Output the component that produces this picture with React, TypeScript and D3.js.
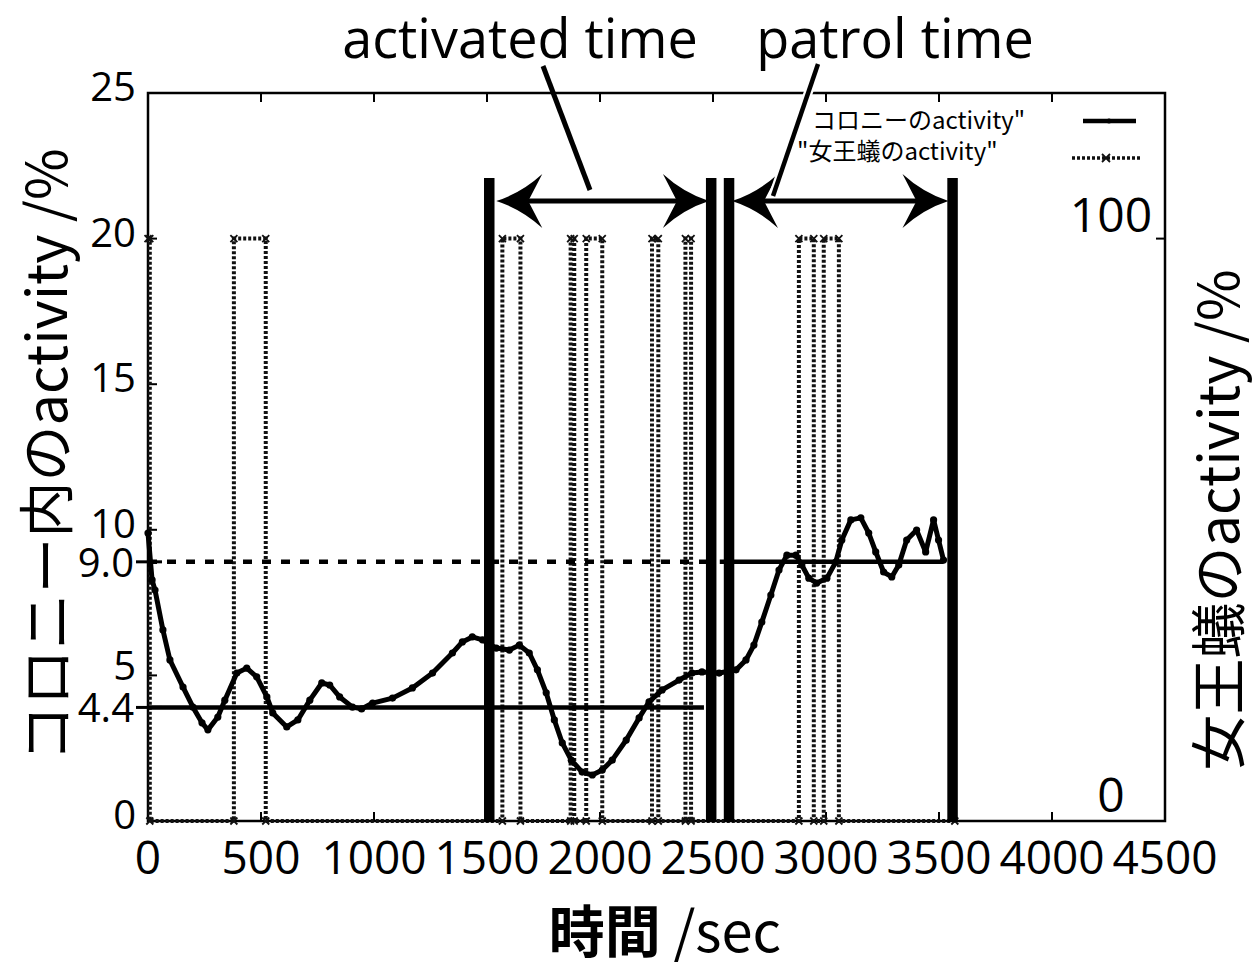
import React from "react";
import * as d3 from "d3";

// ---- data ----
const xTicks = [0, 500, 1000, 1500, 2000, 2500, 3000, 3500, 4000, 4500];
const yTicks = [0, 5, 10, 15, 20, 25];
const y2Ticks = [0, 100];

// colony activity (time sec, percent)
const colonyT = [0, 18, 31, 66, 97, 155, 199, 239, 265, 309, 340, 393, 437, 481, 526, 552, 614, 663, 716, 769, 804, 848, 905, 945, 994, 1082, 1170, 1259, 1347, 1391, 1435, 1480, 1541, 1599, 1643, 1687, 1723, 1762, 1798, 1833, 1873, 1921, 1966, 2010, 2054, 2116, 2173, 2217, 2275, 2350, 2407, 2451, 2527, 2602, 2646, 2681, 2716, 2756, 2792, 2827, 2867, 2893, 2924, 2959, 3004, 3043, 3070, 3110, 3154, 3189, 3220, 3255, 3291, 3322, 3357, 3401, 3441, 3476, 3498, 3520];
const colonyV = [9.89, 8.28, 7.93, 6.56, 5.53, 4.6, 3.91, 3.37, 3.13, 3.57, 4.15, 5.08, 5.25, 4.95, 4.26, 3.71, 3.23, 3.47, 4.15, 4.74, 4.67, 4.26, 3.91, 3.85, 4.05, 4.22, 4.57, 5.08, 5.77, 6.15, 6.32, 6.22, 5.94, 5.87, 6.04, 5.77, 5.19, 4.4, 3.47, 2.68, 2.09, 1.68, 1.58, 1.75, 2.09, 2.78, 3.54, 4.09, 4.5, 4.84, 5.08, 5.12, 5.08, 5.19, 5.53, 6.04, 6.83, 7.76, 8.62, 9.13, 9.13, 8.79, 8.34, 8.17, 8.34, 8.89, 9.65, 10.34, 10.41, 9.89, 9.24, 8.55, 8.38, 8.79, 9.65, 9.99, 9.24, 10.34, 9.65, 8.96];

// queen activity: intervals (sec) where activity = 100%
const queenStart = [0, 380, 1568, 1870, 1939, 2230, 2378, 2880, 2990];
const queenEnd = [8, 521, 1648, 1886, 2010, 2258, 2403, 2946, 3057];
const queenLast = 3570;

// mean lines
const meanValues = [8.9, 3.9];
const meanLabels = ["9.0", "4.4"];
const meanDashedSpan = [0, 2470];
const meanPatrolSpan = [2530, 3520];
const meanLowSpan = [0, 2460];

// periods
const periodLines = [1510, 2492, 2571, 3560];
const annotLabels = ["activated time", "patrol time"];
const annotFrom = [1541, 2584];
const annotTo = [2482, 3542];

const W = 1255;
const H = 968;
const left = 148, right = 1165, top = 93, bottom = 821;

const x = d3.scaleLinear().domain([0, 4500]).range([left, right]);
const y = d3.scaleLinear().domain([0, 25]).range([bottom, top]);
const y2 = d3.scaleLinear().domain([0, 125]).range([bottom, top]);

const LAT = "'Open Sans', 'Noto Sans', sans-serif";
const CJK = "'Noto Sans CJK JP', 'Noto Sans', sans-serif";

function arrowHead(tx: number, ty: number, dir: number) {
  const L = 46, Hh = 27, notch = 14;
  const p = d3.path();
  p.moveTo(tx, ty);
  p.quadraticCurveTo(tx - dir * L * 0.55, ty - Hh * 0.3, tx - dir * L, ty - Hh);
  p.lineTo(tx - dir * (L - notch), ty);
  p.lineTo(tx - dir * L, ty + Hh);
  p.quadraticCurveTo(tx - dir * L * 0.55, ty + Hh * 0.3, tx, ty);
  p.closePath();
  return p.toString();
}

export default function App() {
  const colony = colonyT.map((t, i) => [t, colonyV[i]] as [number, number]);
  const colonyLine = d3
    .line<[number, number]>()
    .x((d) => x(d[0]))
    .y((d) => y(d[1]))(colony) as string;

  // build queen step path
  const qpts: [number, number][] = [];
  queenStart.forEach((s, i) => {
    if (i === 0 && s === 0) {
      qpts.push([0, 100]);
    } else {
      qpts.push([s, 0]);
      qpts.push([s, 100]);
    }
    qpts.push([queenEnd[i], 100]);
    qpts.push([queenEnd[i], 0]);
  });
  qpts.push([queenLast, 0]);
  const queenLine = d3
    .line<[number, number]>()
    .x((d) => x(d[0]))
    .y((d) => y2(d[1]))(qpts) as string;

  const xMark = (cx: number, cy: number, s: number, key: string) => (
    <path
      key={key}
      d={`M${cx - s},${cy - s}L${cx + s},${cy + s}M${cx - s},${cy + s}L${cx + s},${cy - s}`}
      stroke="#111"
      strokeWidth={1.8}
    />
  );

  const arrowY = 201;
  const periodTop = 178;

  return (
    <svg
      width={W}
      height={H}
      style={{ position: "absolute", left: 0, top: 0, background: "#fff" }}
    >
      <rect x={0} y={0} width={W} height={H} fill="#fff" />

      {/* frame */}
      <rect x={left} y={top} width={right - left} height={bottom - top} fill="none" stroke="#000" strokeWidth={2.5} />

      {/* x ticks (top & bottom, inward) */}
      {xTicks.map((t) => (
        <g key={"xt" + t}>
          <line x1={x(t)} x2={x(t)} y1={top} y2={top + 9} stroke="#000" strokeWidth={2} />
          <line x1={x(t)} x2={x(t)} y1={bottom} y2={bottom - 9} stroke="#000" strokeWidth={2} />
          <text
            x={x(t)}
            y={874}
            textAnchor="middle"
            fontFamily={LAT}
            fontSize={46}
            fill="#000"
          >
            {t}
          </text>
        </g>
      ))}

      {/* left y ticks */}
      {yTicks.map((v) => (
        <g key={"yt" + v}>
          <line x1={left} x2={left + 9} y1={y(v)} y2={y(v)} stroke="#000" strokeWidth={2} />
          <text x={136} y={y(v) + (v === 5 ? 5 : 8)} textAnchor="end" fontFamily={LAT} fontSize={40} fill="#000">
            {v}
          </text>
        </g>
      ))}

      {/* mean ticks */}
      {meanValues.map((v, i) => (
        <g key={"mt" + i}>
          <line x1={left - 12} x2={left + 14} y1={y(v)} y2={y(v)} stroke="#000" strokeWidth={3} />
          <text x={134} y={y(v) + 15} textAnchor="end" fontFamily={LAT} fontSize={40} fill="#000">
            {meanLabels[i]}
          </text>
        </g>
      ))}

      {/* right y2 ticks */}
      {y2Ticks.map((v) => (
        <g key={"y2t" + v}>
          <line x1={right - 9} x2={right} y1={y2(v)} y2={y2(v)} stroke="#000" strokeWidth={2} />
          <text
            x={1111}
            y={y2(v) - (v === 0 ? 9 : 7)}
            textAnchor="middle"
            fontFamily={LAT}
            fontSize={48}
            fill="#000"
          >
            {v}
          </text>
        </g>
      ))}

      {/* queen activity */}
      <path d={queenLine} fill="none" stroke="#111" strokeWidth={4} strokeDasharray="3,2" />
      {qpts.map((d, i) => xMark(x(d[0]), y2(d[1]), 3.5, "qm" + i))}

      {/* mean lines */}
      <line
        x1={x(meanDashedSpan[0])}
        x2={x(meanDashedSpan[1])}
        y1={y(meanValues[0])}
        y2={y(meanValues[0])}
        stroke="#000"
        strokeWidth={4.5}
        strokeDasharray="9,10"
      />
      <line
        x1={x(meanPatrolSpan[0])}
        x2={x(meanPatrolSpan[1])}
        y1={y(meanValues[0])}
        y2={y(meanValues[0])}
        stroke="#000"
        strokeWidth={4.5}
      />
      <line
        x1={x(meanLowSpan[0])}
        x2={x(meanLowSpan[1])}
        y1={y(meanValues[1])}
        y2={y(meanValues[1])}
        stroke="#000"
        strokeWidth={4.5}
      />

      {/* colony activity */}
      <path d={colonyLine} fill="none" stroke="#000" strokeWidth={5} strokeLinejoin="round" />
      {colony.map((d, i) => (
        <circle key={"cm" + i} cx={x(d[0])} cy={y(d[1])} r={3.6} fill="#000" />
      ))}

      {/* period lines */}
      {periodLines.map((t, i) => (
        <line key={"pl" + i} x1={x(t)} x2={x(t)} y1={periodTop} y2={bottom + 1} stroke="#000" strokeWidth={10.5} />
      ))}

      {/* arrows */}
      {annotFrom.map((f, i) => (
        <g key={"ar" + i}>
          <line x1={x(f) + 20} x2={x(annotTo[i]) - 20} y1={arrowY} y2={arrowY} stroke="#000" strokeWidth={5} />
          <path d={arrowHead(x(f), arrowY, -1)} fill="#000" />
          <path d={arrowHead(x(annotTo[i]), arrowY, 1)} fill="#000" />
        </g>
      ))}

      {/* pointer lines */}
      <line x1={543} y1={66} x2={590} y2={190} stroke="#000" strokeWidth={5} />
      <line x1={818} y1={64} x2={773} y2={196} stroke="#fff" strokeWidth={9} />
      <line x1={818} y1={64} x2={773} y2={196} stroke="#000" strokeWidth={4.5} />

      {/* top labels */}
      <text x={520} y={58} textAnchor="middle" fontFamily={LAT} fontSize={54} fill="#000">
        {annotLabels[0]}
      </text>
      <text x={895} y={58} textAnchor="middle" fontFamily={LAT} fontSize={54} fill="#000">
        {annotLabels[1]}
      </text>

      {/* legend */}
      <text x={812} y={129} fontFamily={CJK} fontSize={24} fill="#000">
        コロニーのactivity"
      </text>
      <line x1={1083} x2={1136} y1={121} y2={121} stroke="#000" strokeWidth={4.5} />
      <circle cx={1109} cy={121} r={2.5} fill="#000" />
      <text x={797} y={160} fontFamily={CJK} fontSize={24} fill="#000">
        "女王蟻のactivity"
      </text>
      <line x1={1072} x2={1140} y1={158} y2={158} stroke="#111" strokeWidth={3.5} strokeDasharray="3,2" />
      {xMark(1106, 158, 4, "legx")}

      {/* axis titles */}
      <text
        transform="translate(42,455) rotate(-90)"
        textAnchor="middle"
        dominantBaseline="central"
        fontFamily={CJK}
        fontSize={56}
        fill="#000"
      >
        コロニー内のactivity /%
      </text>
      <text
        transform="translate(1214,520) rotate(-90)"
        textAnchor="middle"
        dominantBaseline="central"
        fontFamily={CJK}
        fontSize={56}
        fill="#000"
      >
        女王蟻のactivity /%
      </text>
      <text x={665} y={952} textAnchor="middle" fontFamily={CJK} fontSize={56} fill="#000">
        <tspan fontWeight="bold">時間</tspan>
        <tspan> /sec</tspan>
      </text>
    </svg>
  );
}
